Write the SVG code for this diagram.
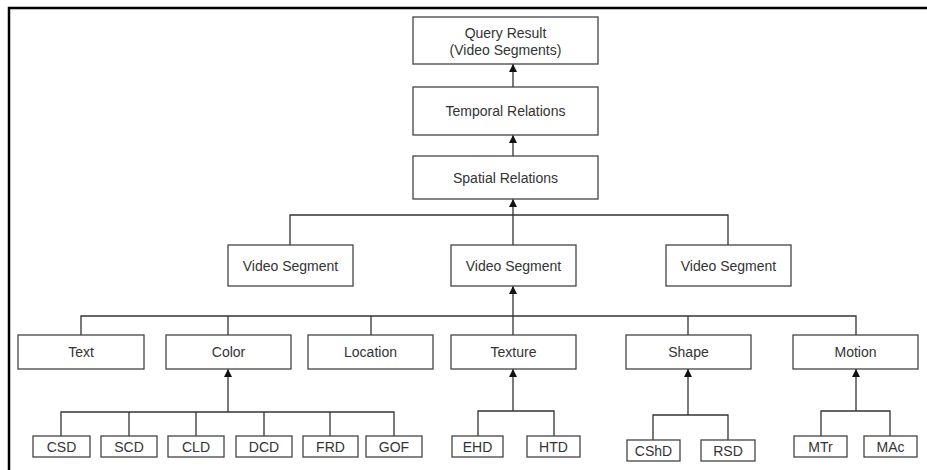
<svg xmlns="http://www.w3.org/2000/svg" width="927" height="470" viewBox="0 0 927 470">
  <style>
    .box { fill: #ffffff; stroke: #444444; stroke-width: 1.3; }
    .lbl { font-family: "Liberation Sans", Arial, sans-serif; font-size: 14px; fill: #333333; text-anchor: middle; }
    .wire { fill: none; stroke: #333333; stroke-width: 1.3; }
    .arrow { fill: none; stroke: #333333; stroke-width: 1.3; marker-end: url(#head); }
  </style>
  <defs>
    <marker id="head" viewBox="0 0 8 10" refX="8" refY="5" markerWidth="8" markerHeight="10" markerUnits="userSpaceOnUse" orient="auto">
      <path d="M0,1 L8,5 L0,9 Z" fill="#111111"/>
    </marker>
  </defs>

  <rect width="927" height="470" fill="#ffffff"/>
  <!-- frame -->
  <path d="M9,470 V8 H927" fill="none" stroke="#000000" stroke-width="2.5"/>

  <g id="connectors">
    <!-- top stack -->
    <line class="arrow" x1="513" y1="87" x2="513" y2="64"/>
    <line class="arrow" x1="513" y1="156" x2="513" y2="135"/>
    <line class="arrow" x1="513" y1="245" x2="513" y2="199"/>
    <path class="wire" d="M290,245 V215 H728 V245"/>
    <!-- feature row -->
    <line class="arrow" x1="513" y1="335" x2="513" y2="286"/>
    <path class="wire" d="M81,335 V316 H856 V335"/>
    <line class="wire" x1="228" y1="316" x2="228" y2="335"/>
    <line class="wire" x1="371" y1="316" x2="371" y2="335"/>
    <line class="wire" x1="688" y1="316" x2="688" y2="335"/>
    <!-- colour descriptors -->
    <line class="arrow" x1="228" y1="412" x2="228" y2="369"/>
    <path class="wire" d="M61,436 V412 H394 V436"/>
    <line class="wire" x1="129" y1="412" x2="129" y2="436"/>
    <line class="wire" x1="196" y1="412" x2="196" y2="436"/>
    <line class="wire" x1="264" y1="412" x2="264" y2="436"/>
    <line class="wire" x1="330" y1="412" x2="330" y2="436"/>
    <!-- texture descriptors -->
    <line class="arrow" x1="513" y1="411" x2="513" y2="369"/>
    <path class="wire" d="M478,436 V411 H554 V436"/>
    <!-- shape descriptors -->
    <line class="arrow" x1="688" y1="415" x2="688" y2="369"/>
    <path class="wire" d="M653,440 V415 H728 V440"/>
    <!-- motion descriptors -->
    <line class="arrow" x1="856" y1="411" x2="856" y2="369"/>
    <path class="wire" d="M821,436 V411 H890 V436"/>
  </g>

  <g id="query-result">
    <rect class="box" x="413" y="17" width="185" height="47"/>
    <text class="lbl" x="505.5" y="38">Query Result</text>
    <text class="lbl" x="505.5" y="55">(Video Segments)</text>
  </g>
  <g id="temporal-relations">
    <rect class="box" x="413" y="87" width="185" height="48"/>
    <text class="lbl" x="505.5" y="116">Temporal Relations</text>
  </g>
  <g id="spatial-relations">
    <rect class="box" x="413" y="156" width="185" height="43"/>
    <text class="lbl" x="505.5" y="182.5">Spatial Relations</text>
  </g>

  <g id="video-segment-1">
    <rect class="box" x="228" y="245" width="125" height="41"/>
    <text class="lbl" x="290.5" y="270.5">Video Segment</text>
  </g>
  <g id="video-segment-2">
    <rect class="box" x="451" y="245" width="125" height="41"/>
    <text class="lbl" x="513.5" y="270.5">Video Segment</text>
  </g>
  <g id="video-segment-3">
    <rect class="box" x="666" y="245" width="125" height="41"/>
    <text class="lbl" x="728.5" y="270.5">Video Segment</text>
  </g>

  <g id="text">
    <rect class="box" x="18" y="335" width="126" height="34"/>
    <text class="lbl" x="81" y="357">Text</text>
  </g>
  <g id="color">
    <rect class="box" x="166" y="335" width="125" height="34"/>
    <text class="lbl" x="228.5" y="357">Color</text>
  </g>
  <g id="location">
    <rect class="box" x="308" y="335" width="125" height="34"/>
    <text class="lbl" x="370.5" y="357">Location</text>
  </g>
  <g id="texture">
    <rect class="box" x="451" y="335" width="125" height="34"/>
    <text class="lbl" x="513.5" y="357">Texture</text>
  </g>
  <g id="shape">
    <rect class="box" x="626" y="335" width="125" height="34"/>
    <text class="lbl" x="688.5" y="357">Shape</text>
  </g>
  <g id="motion">
    <rect class="box" x="793" y="335" width="125" height="34"/>
    <text class="lbl" x="855.5" y="357">Motion</text>
  </g>

  <g id="csd">
    <rect class="box" x="33" y="436" width="57" height="21"/>
    <text class="lbl" x="61.5" y="451.5">CSD</text>
  </g>
  <g id="scd">
    <rect class="box" x="101" y="436" width="56" height="21"/>
    <text class="lbl" x="129" y="451.5">SCD</text>
  </g>
  <g id="cld">
    <rect class="box" x="168" y="436" width="56" height="21"/>
    <text class="lbl" x="196" y="451.5">CLD</text>
  </g>
  <g id="dcd">
    <rect class="box" x="236" y="436" width="56" height="21"/>
    <text class="lbl" x="264" y="451.5">DCD</text>
  </g>
  <g id="frd">
    <rect class="box" x="303" y="436" width="55" height="21"/>
    <text class="lbl" x="330.5" y="451.5">FRD</text>
  </g>
  <g id="gof">
    <rect class="box" x="366" y="436" width="56" height="21"/>
    <text class="lbl" x="394" y="451.5">GOF</text>
  </g>
  <g id="ehd">
    <rect class="box" x="452" y="436" width="51" height="21"/>
    <text class="lbl" x="477.5" y="451.5">EHD</text>
  </g>
  <g id="htd">
    <rect class="box" x="527" y="436" width="53" height="21"/>
    <text class="lbl" x="553.5" y="451.5">HTD</text>
  </g>
  <g id="cshd">
    <rect class="box" x="627" y="440" width="53" height="21"/>
    <text class="lbl" x="653.5" y="455.5">CShD</text>
  </g>
  <g id="rsd">
    <rect class="box" x="701" y="440" width="54" height="21"/>
    <text class="lbl" x="728" y="455.5">RSD</text>
  </g>
  <g id="mtr">
    <rect class="box" x="794" y="436" width="53" height="21"/>
    <text class="lbl" x="820.5" y="451.5">MTr</text>
  </g>
  <g id="mac">
    <rect class="box" x="864" y="436" width="53" height="21"/>
    <text class="lbl" x="890.5" y="451.5">MAc</text>
  </g>
</svg>
